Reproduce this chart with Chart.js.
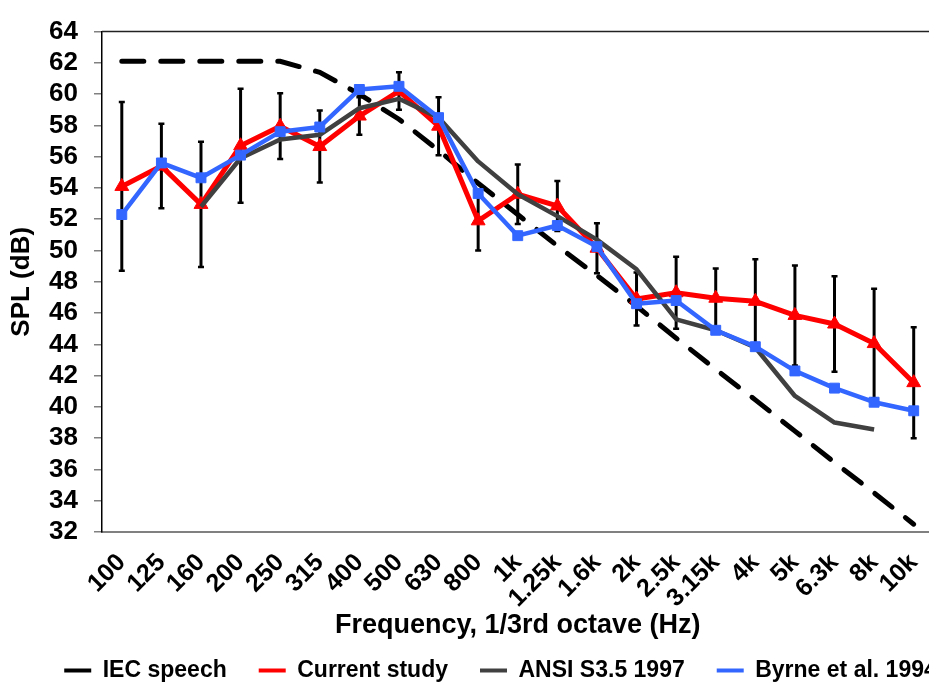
<!DOCTYPE html>
<html>
<head>
<meta charset="utf-8">
<title>SPL por frequência</title>
<script src="https://cdn.jsdelivr.net/npm/chart.js@4.4.1/dist/chart.umd.min.js"></script>
<style>
    html, body { margin: 0; padding: 0; overflow: hidden; background: #fff; }
</style>
</head>
<body>
<canvas id="graficoSpl" width="1001" height="692"></canvas>
<script>
// Bandas de 1/3 de oitava (eixo x)
const frequencies = ['100', '125', '160', '200', '250', '315', '400', '500', '630', '800',
    '1k', '1.25k', '1.6k', '2k', '2.5k', '3.15k', '4k', '5k', '6.3k', '8k', '10k'];

// Valores (dB SPL)
const iecSpeech = [62.1, 62.1, 62.1, 62.1, 62.1, 61.4, 60.0, 58.4, 56.4, 54.3,
    52.3, 50.3, 48.4, 46.45, 44.4, 42.4, 40.45, 38.45, 36.45, 34.5, 32.5];
const currentStudy = [54.1, 55.4, 52.95, 56.7, 57.95, 56.65, 58.6, 60.2, 57.95, 51.9,
    53.6, 52.85, 50.15, 46.9, 47.3, 46.95, 46.75, 45.85, 45.3, 44.05, 41.55];
const currentSd = [5.4, 2.7, 4.0, 3.65, 2.1, 2.3, 1.2, 1.2, 1.85, 1.9,
    1.9, 1.6, 1.6, 1.7, 2.3, 1.9, 2.7, 3.2, 3.05, 3.5, 3.55];
const ansi = [null, null, 52.8, 55.9, 57.1, 57.4, 59.1, 59.7, 58.5, 55.7,
    53.6, 52.2, 50.7, 48.8, 45.6, 44.9, 43.8, 40.7, 39.0, 38.55, null];
const byrne = [52.3, 55.6, 54.65, 56.1, 57.6, 57.9, 60.3, 60.5, 58.5, 53.65,
    50.95, 51.6, 50.25, 46.6, 46.8, 44.9, 43.85, 42.3, 41.2, 40.3, 39.75];

// Rótulos do eixo y
const splTicks = [32, 34, 36, 38, 40, 42, 44, 46, 48, 50, 52, 54, 56, 58, 60, 62, 64];

Chart.defaults.font.family = "'Liberation Sans', Arial, sans-serif";
Chart.defaults.font.weight = 'bold';
Chart.defaults.color = '#000';

// Barras de erro do estudo atual (desenhadas atrás das linhas)
const errorBars = {
    id: 'errorBars',
    beforeDatasetsDraw(chart) {
        const { ctx, scales: { x, y } } = chart;
        ctx.save();
        ctx.strokeStyle = '#000';
        currentStudy.forEach((v, i) => {
            const px = x.getPixelForValue(i);
            const top = y.getPixelForValue(v + currentSd[i]);
            const bottom = y.getPixelForValue(v - currentSd[i]);
            ctx.lineWidth = 3;
            ctx.beginPath();
            ctx.moveTo(px, top);
            ctx.lineTo(px, bottom);
            ctx.stroke();
            ctx.lineWidth = 2.5;
            ctx.beginPath();
            ctx.moveTo(px - 3, top);
            ctx.lineTo(px + 3, top);
            ctx.moveTo(px - 3, bottom);
            ctx.lineTo(px + 3, bottom);
            ctx.stroke();
        });
        ctx.restore();
    }
};

// Linha superior da área do gráfico
const plotFrame = {
    id: 'plotFrame',
    afterDraw(chart) {
        const { ctx, chartArea: a } = chart;
        ctx.save();
        ctx.strokeStyle = '#222';
        ctx.lineWidth = 1.5;
        ctx.beginPath();
        ctx.moveTo(a.left, a.top);
        ctx.lineTo(a.right, a.top);
        ctx.stroke();
        ctx.restore();
    }
};

const ctx = document.getElementById('graficoSpl').getContext('2d');
new Chart(ctx, {
    type: 'line',
    data: {
        labels: frequencies,
        datasets: [
            {
                label: 'IEC speech',
                data: iecSpeech,
                borderColor: '#000',
                borderWidth: 5,
                borderDash: [22, 17],
                borderCapStyle: 'round',
                pointRadius: 0,
                order: 4
            },
            {
                label: 'Current study',
                data: currentStudy,
                borderColor: '#FF0000',
                borderWidth: 5,
                borderJoinStyle: 'round',
                pointStyle: 'triangle',
                pointRadius: 8,
                pointBackgroundColor: '#FF0000',
                pointBorderColor: '#FF0000',
                pointBorderWidth: 1,
                order: 3
            },
            {
                label: 'ANSI S3.5 1997',
                data: ansi,
                borderColor: '#404040',
                borderWidth: 4.5,
                borderJoinStyle: 'round',
                pointRadius: 0,
                order: 2
            },
            {
                label: 'Byrne et al. 1994',
                data: byrne,
                borderColor: '#3366FF',
                borderWidth: 4.5,
                borderJoinStyle: 'round',
                pointStyle: 'rect',
                pointRadius: 7,
                pointBackgroundColor: '#3366FF',
                pointBorderColor: '#3366FF',
                pointBorderWidth: 1,
                order: 1
            }
        ]
    },
    options: {
        responsive: false,
        animation: false,
        layout: {
            padding: { top: 22, left: 0, right: 0, bottom: 0 }
        },
        scales: {
            x: {
                offset: true,
                afterFit: (scale) => { scale.height = 95; },
                grid: { display: false, drawTicks: false },
                border: { color: '#808080', width: 2 },
                ticks: {
                    autoSkip: false,
                    minRotation: 45,
                    maxRotation: 45,
                    padding: 16,
                    font: { size: 25, weight: 'bold' }
                },
                title: {
                    display: true,
                    text: 'Frequency, 1/3rd octave (Hz)',
                    font: { size: 27, weight: 'bold', lineHeight: 1 },
                    padding: { top: 0, bottom: -12.5 }
                }
            },
            y: {
                min: splTicks[0],
                max: splTicks[splTicks.length - 1],
                afterFit: (scale) => { scale.width = 102; },
                afterBuildTicks: (scale) => { scale.ticks = splTicks.map((v) => ({ value: v })); },
                grid: {
                    drawOnChartArea: false,
                    drawTicks: true,
                    tickLength: 8,
                    color: '#808080',
                    lineWidth: 1.5
                },
                border: { color: '#000', width: 1.5 },
                ticks: {
                    autoSkip: false,
                    padding: 16,
                    font: { size: 26, weight: 'bold' }
                },
                title: {
                    display: true,
                    text: 'SPL (dB)',
                    font: { size: 26, weight: 'bold', lineHeight: 1 },
                    padding: { top: 9, bottom: 0 }
                }
            },
            // eixo vazio à direita, só para reservar a margem da legenda
            margem: {
                type: 'linear',
                position: 'right',
                afterFit: (scale) => { scale.width = 67.5; },
                grid: { display: false, drawTicks: false },
                border: { display: false },
                ticks: { display: false }
            }
        },
        plugins: {
            legend: {
                position: 'bottom',
                labels: {
                    boxWidth: 27,
                    boxHeight: 4,
                    padding: 32,
                    font: { size: 23, weight: 'bold' },
                    generateLabels: (chart) => chart.data.datasets.map((ds, i) => ({
                        text: ds.label,
                        fillStyle: ds.borderColor,
                        strokeStyle: ds.borderColor,
                        lineWidth: 0,
                        hidden: false,
                        datasetIndex: i
                    }))
                }
            },
            tooltip: { enabled: false }
        }
    },
    plugins: [errorBars, plotFrame]
});
</script>
</body>
</html>
